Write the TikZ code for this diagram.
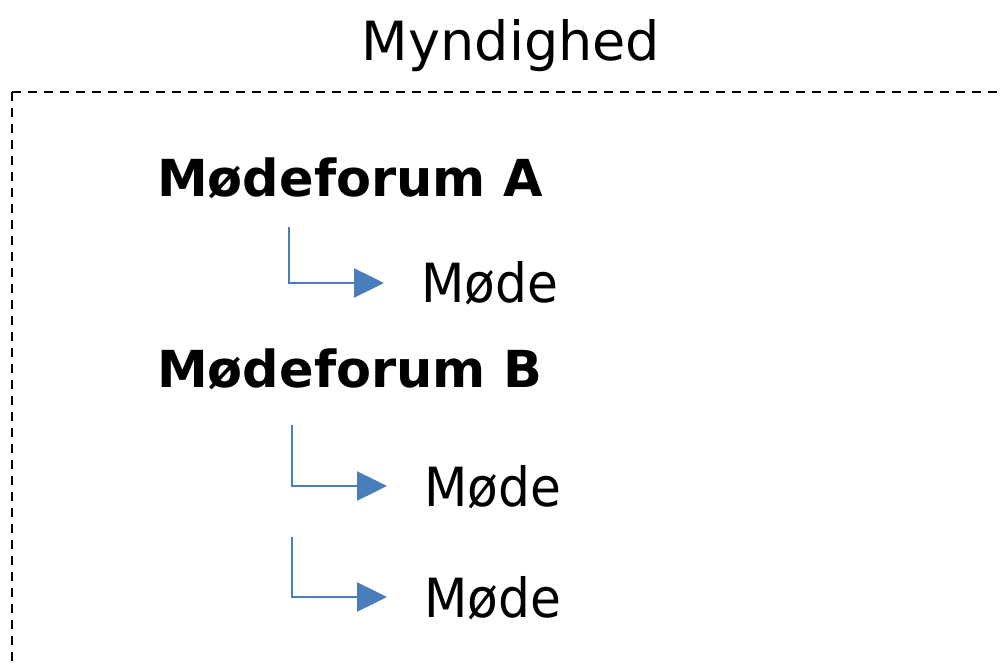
\documentclass[tikz,border=0pt]{standalone}
\usepackage{fontspec}
\setmainfont{DejaVu Sans}
\newfontfamily\meetfont[FakeStretch=0.93]{DejaVu Sans}
\usetikzlibrary{arrows.meta}
\definecolor{arrowblue}{RGB}{74,126,187}
\begin{document}
\begin{tikzpicture}[x=1pt,y=-1pt,
  title/.style={anchor=base,inner sep=0pt,font=\fontsize{54}{58}\selectfont},
  forum/.style={anchor=base west,inner sep=0pt,font=\fontsize{51}{54}\selectfont\bfseries},
  meeting/.style={anchor=base west,inner sep=0pt,text height=40pt,text depth=0pt,font=\meetfont\fontsize{54}{58}\selectfont},
  link/.style={draw=arrowblue,line width=2.5pt,-{Triangle[length=30pt,width=29pt]}},
  frame/.style={draw=black,line width=2pt,dash pattern=on 9pt off 7pt}]
\useasboundingbox (0,0) rectangle (1002,663);
\draw[frame] (12,92) -- (1010,92);
\draw[frame] (12,92) -- (12,670);
\node[title] (myn) at (511,61) {Myndighed};
\node[forum] (fa) at (157,197) {Mødeforum A};
\node[meeting] (m1) at (421,303) {Møde};
\node[forum] (fb) at (157,387) {Mødeforum B};
\node[meeting] (m2) at (424,506) {Møde};
\node[meeting] (m3) at (424,617) {Møde};
\coordinate (s1) at (289,227);
\coordinate (s2) at (292,425);
\coordinate (s3) at (292,537);
\draw[link] (s1) |- ([xshift=-37pt]m1.west);
\draw[link] (s2) |- ([xshift=-37pt]m2.west);
\draw[link] (s3) |- ([xshift=-37pt]m3.west);
\end{tikzpicture}
\end{document}
